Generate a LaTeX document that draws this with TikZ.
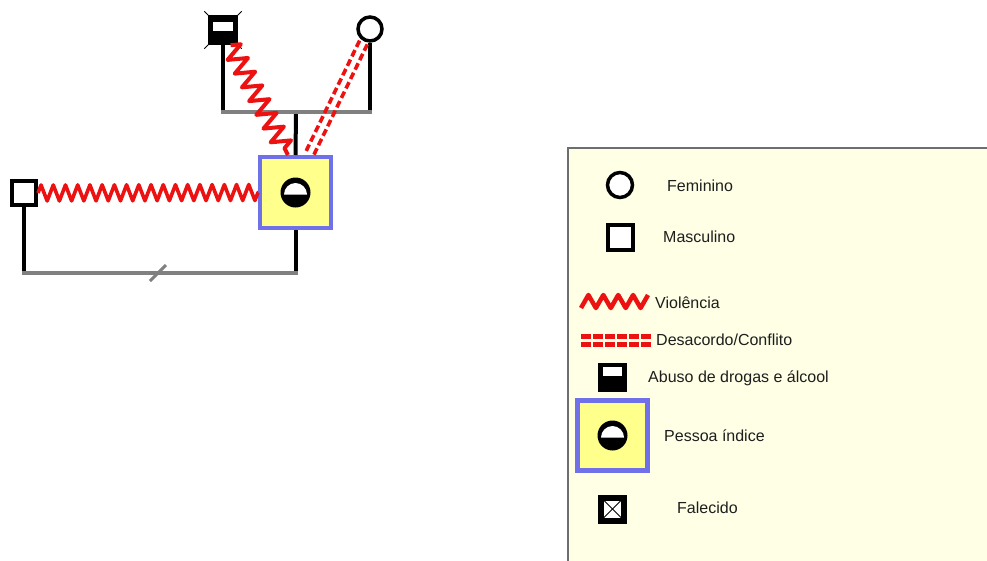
\documentclass[tikz,border=0pt]{standalone}
\usepackage{fontspec}
\setmainfont{Liberation Sans}
\usetikzlibrary{decorations.pathmorphing,calc}
\definecolor{idxblue}{RGB}{112,112,232}
\definecolor{idxyellow}{RGB}{255,255,140}
\definecolor{legbg}{RGB}{255,255,230}
\definecolor{legframe}{RGB}{110,110,110}
\definecolor{relred}{RGB}{236,18,18}
\definecolor{linegray}{RGB}{128,128,128}
\definecolor{txt}{RGB}{30,30,30}
\tikzset{
  blk/.style={line width=4pt, black},
  gry/.style={line width=4pt, linegray},
  male/.style={draw=black, fill=white, line width=4pt, minimum size=24pt, inner sep=0pt, rectangle},
  fem/.style={draw=black, fill=white, line width=3.5pt, minimum size=24pt, inner sep=0pt, circle},
  abuser/.style={fill=black, minimum size=30pt, inner sep=0pt, rectangle},
  idxbox/.style={draw=idxblue, fill=idxyellow, line width=4pt, minimum size=71pt, inner sep=0pt, rectangle},
  viol/.style={draw=relred, line width=3.6pt, line join=round, decorate},
  conf/.style={draw=relred, line width=3.6pt, dash pattern=on 7pt off 3.5pt},
  legtext/.style={anchor=base west, text=txt, font=\fontsize{16}{19}\selectfont, inner sep=0pt},
}
\newcommand\idxsymbol[1]{%
  \fill[black] (#1) circle[radius=15];
  \fill[white] ($(#1)+(-11.5,2)$) arc[start angle=180,end angle=360,radius=11.5] -- cycle;
}
\begin{document}
\begin{tikzpicture}[x=1pt,y=-1pt]
\useasboundingbox (0,0) rectangle (987,560);
\clip (0,0) rectangle (987,560);

% ---------- genogram ----------
\node[abuser] (father) at (223,30) {};
\node[fem] (mother) at (370,29) {};
\node[male] (husband) at (24,193) {};
\node[idxbox] (idx) at (295.5,192.5) {};

\coordinate (pl) at (296,112);
\coordinate (ml) at (160,273);

% father / mother verticals
\draw[blk] (father.south) -- (father.south |- pl);
\draw[blk] (mother.south) -- (mother.south |- pl);
\draw[blk] (pl) -- (idx.north);
\draw[gry, line cap=rect] (father.south |- pl) -- (mother.south |- pl);

% marriage of index and husband
\draw[blk] (husband.south) -- (husband.south |- ml);
\draw[blk] (idx.south) -- (idx.south |- ml);
\draw[gry, line cap=rect] (husband.south |- ml) -- (idx.south |- ml);
\coordinate (sepA) at (150,281);
\coordinate (sepB) at (166,265);
\draw[linegray, line width=3pt] (sepA) -- (sepB);

% father deceased marks + drug abuse symbol
\draw[black, line width=1pt] ($(father.north west)+(-3.5,-3.5)$) -- ($(father.south east)+(3.5,3.5)$);
\draw[black, line width=1pt] ($(father.north east)+(3.5,-3.5)$) -- ($(father.south west)+(-3.5,3.5)$);
\node[abuser] at (father) {};
\fill[white] (213,22) rectangle (233,31);

% index symbol
\idxsymbol{idx}

% violence husband -- index
\draw[viol, decoration={zigzag, segment length=12.22pt, amplitude=8pt}] (husband.east) -- (idx.west);
% violence father -- index
\coordinate (fz) at ($(father.south)!0.5!(father.south east)$);
\coordinate (iz) at ($(idx.north west)!0.4!(idx.north east)$);
\draw[viol, line width=4pt, decoration={zigzag, segment length=15.5pt, amplitude=9.5pt}] (fz) -- (iz);
% conflict mother -- index
\coordinate (dB) at ($(idx.north west)!0.68!(idx.north east)$);
\coordinate (dA) at ($(mother.center)!15pt!(dB)$);
\draw[conf] ($(dA)!4.3pt!90:(dB)$) -- ($(dB)!4.3pt!-90:(dA)$);
\draw[conf] ($(dA)!4.3pt!-90:(dB)$) -- ($(dB)!4.3pt!90:(dA)$);

% ---------- legend ----------
\fill[legbg] (568,148) rectangle (995,570);
\draw[legframe, line width=1.5pt] (995,148) -- (568,148) -- (568,570);

\node[fem, line width=3.5pt, minimum size=25pt] (lfem) at (620,185) {};
\node[legtext] (tfem) at (667,191) {Feminino};

\node[male, minimum size=25pt] (lmas) at (620,237) {};
\node[legtext] (tmas) at (663,242) {Masculino};

\coordinate (lv1) at (581,308);
\coordinate (lv2) at (648,295);
\draw[relred, line width=4.5pt, line join=round]
  (lv1) -- (588.4,295) -- (595.9,308) -- (603.3,295) -- (610.8,308) -- (618.2,295)
  -- (625.7,308) -- (633.1,295) -- (640.6,308) -- (lv2);
\node[legtext] (tvio) at (655,308) {Violência};

\coordinate (lc1) at (581,336.5);
\coordinate (lc2) at (652,336.5);
\coordinate (lc3) at (581,344.5);
\coordinate (lc4) at (652,344.5);
\draw[relred, line width=5.5pt, dash pattern=on 9.5pt off 2.5pt] (lc1) -- (lc2);
\draw[relred, line width=5.5pt, dash pattern=on 9.5pt off 2.5pt] (lc3) -- (lc4);
\node[legtext] (tcon) at (656,345) {Desacordo/Conflito};

\node[abuser, minimum size=29pt] (labu) at (612.5,377) {};
\fill[white] (603,367) rectangle (622,375.5);
\node[legtext] (tabu) at (648,382) {Abuso de drogas e álcool};

\node[idxbox, line width=5pt, minimum size=70pt] (lidx) at (612.5,435.5) {};
\idxsymbol{lidx}
\node[legtext] (tidx) at (664,441) {Pessoa índice};

\node[abuser, minimum size=29pt] (ldec) at (612.5,509) {};
\node[fill=white, draw=black, line width=0.8pt, minimum size=18pt, inner sep=0pt, rectangle] (ldecin) at (612.5,509) {};
\draw[black, line width=0.8pt] (ldecin.north west) -- (ldecin.south east);
\draw[black, line width=0.8pt] (ldecin.north east) -- (ldecin.south west);
\node[legtext] (tdec) at (677,513) {Falecido};
\end{tikzpicture}
\end{document}
